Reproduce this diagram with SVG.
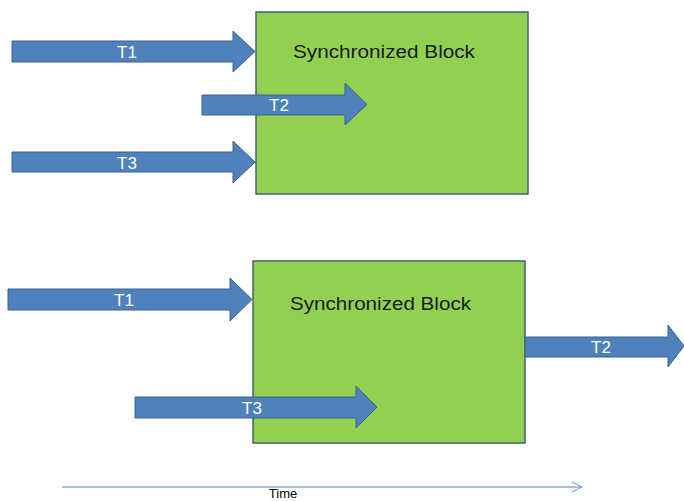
<svg xmlns="http://www.w3.org/2000/svg" width="684" height="501" viewBox="0 0 684 501">
<style>
.block{fill:#92D050;stroke:#41627A;stroke-width:1.5}
.arrow{fill:#4F81BD;stroke:#3A6290;stroke-width:1}
.lbl{font-family:"Liberation Sans",Arial,sans-serif;font-size:17px;fill:#ffffff;text-anchor:middle}
.title{font-family:"Liberation Sans",Arial,sans-serif;font-size:18px;fill:#1a1a1a}
.time{font-family:"Liberation Sans",Arial,sans-serif;font-size:13px;fill:#000;text-anchor:middle}
</style>
<defs>
<marker id="open" viewBox="0 0 10 10" refX="10" refY="5" markerWidth="10" markerHeight="10" markerUnits="userSpaceOnUse" orient="auto">
<path d="M0,0 L10,5 L0,10" fill="none" stroke="#6F95C5" stroke-width="1"/>
</marker>
</defs>
<g id="block-top">
<rect class="block" x="256" y="12" width="272" height="182"/>
<text class="title" x="293" y="58" textLength="182" lengthAdjust="spacingAndGlyphs">Synchronized Block</text>
</g>
<g id="block-bottom">
<rect class="block" x="253" y="261" width="272" height="182"/>
<text class="title" x="290" y="310" textLength="181" lengthAdjust="spacingAndGlyphs">Synchronized Block</text>
</g>
<g id="connectors">
<g id="top-t1">
<path class="arrow" d="M12,41 H233 V31 L255,51.5 L233,72 V62 H12 Z"/>
<text class="lbl" x="127" y="58">T1</text>
</g>
<g id="top-t2">
<path class="arrow" d="M202,95 H345 V83 L367,104.5 L345,125 V115 H202 Z"/>
<text class="lbl" x="279" y="111">T2</text>
</g>
<g id="top-t3">
<path class="arrow" d="M12,152 H233 V141 L255,162 L233,183 V172 H12 Z"/>
<text class="lbl" x="127" y="169">T3</text>
</g>
<g id="bottom-t1">
<path class="arrow" d="M8,289 H230 V278 L252,299.5 L230,321 V310 H8 Z"/>
<text class="lbl" x="124" y="306">T1</text>
</g>
<g id="bottom-t3">
<path class="arrow" d="M135,397 H356 V386 L377,407 L356,428 V418 H135 Z"/>
<text class="lbl" x="252" y="414">T3</text>
</g>
<g id="bottom-t2">
<path class="arrow" d="M525,337 H668 V325 L684,346 L668,367 V357 H525 Z"/>
<text class="lbl" x="601" y="353">T2</text>
</g>
<g id="timeline">
<line x1="62" y1="487" x2="582" y2="487" stroke="#5B82B5" stroke-width="1" marker-end="url(#open)"/>
<text class="time" x="283" y="498">Time</text>
</g>
</g>
</svg>
